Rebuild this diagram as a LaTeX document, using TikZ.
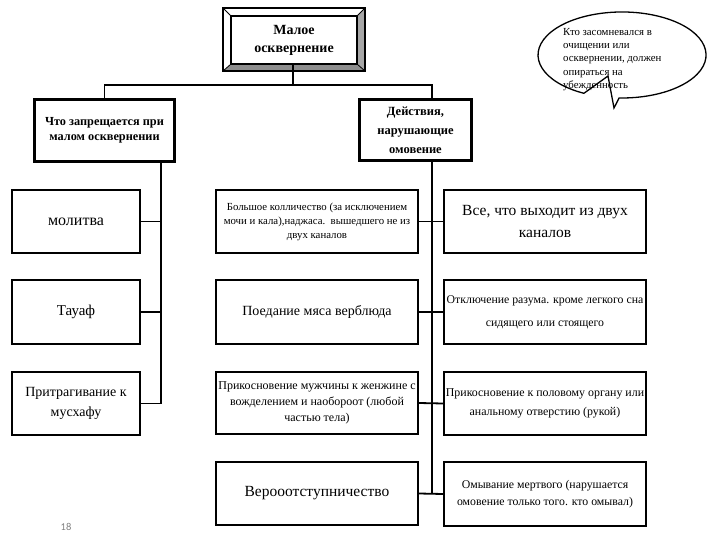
\documentclass[tikz,border=0pt]{standalone}
\usepackage{fontspec}
\setmainfont{Liberation Serif}
\newfontfamily\numfont{Carlito}
\usetikzlibrary{calc}
\definecolor{bevelgray}{HTML}{A6A6A6}
\begin{document}
\begin{tikzpicture}[x=1pt,y=-1pt,
  box/.style={draw=black,line width=1.6pt,fill=white,align=center,inner sep=1pt},
  headbox/.style={draw=black,line width=3.2pt,fill=white,align=center,inner sep=1pt,font=\bfseries},
  conn/.style={draw=black,line width=1.8pt},
  fs/.style n args={2}{font=\fontsize{#1}{#2}\selectfont}
]
\useasboundingbox (0,0) rectangle (720,540);
% ---- top bevel box
\fill[bevelgray] (223,8) rectangle (365,71);
\fill[white] (223,8) -- (365,8) -- (357,16) -- (231,16) -- cycle;
\fill[white] (223,8) -- (231,16) -- (231,64) -- (223,71) -- cycle;
\fill[bevelgray!85!black] (223,71) -- (365,71) -- (357,64) -- (231,64) -- cycle;
\draw[line width=0.8pt] (223,8) -- (231,16) (365,8) -- (357,16) (223,71) -- (231,64) (365,71) -- (357,64);
\draw[line width=2.4pt] (223,8) rectangle (365,71);
\node[draw,line width=1.6pt,fill=white,minimum width=126,minimum height=48,align=center,inner sep=1pt,
  font=\fontsize{14}{18}\selectfont\bfseries] (top) at (294,40) {Малое\\осквернение};
% ---- headers
\node[headbox,minimum width=140,minimum height=62,font=\fontsize{12.3}{15}\selectfont\bfseries] (lh) at (104.5,130.5) {Что запрещается при\\малом осквернении};
\node[headbox,minimum width=112,minimum height=61,font=\fontsize{12.5}{19}\selectfont\bfseries] (rh) at (415.5,130) {Действия,\\нарушающие\\омовение};
% ---- left column
\node[box,minimum width=128,minimum height=63,fs={16}{19}] (l1) at (76,221.5) {молитва};
\node[box,minimum width=128,minimum height=64,fs={15}{18}] (l2) at (76,312) {Тауаф};
\node[box,minimum width=128,minimum height=63,fs={14}{20}] (l3) at (76,403.5) {Притрагивание к\\мусхафу};
% ---- middle column
\node[box,minimum width=202,minimum height=63,fs={10.8}{14}] (m1) at (317,221.5) {Большое колличество (за исключением\\мочи и кала),наджаса.\ \ вышедшего не из\\двух каналов};
\node[box,minimum width=202,minimum height=64,fs={14}{17}] (m2) at (317,312) {Поедание мяса верблюда};
\node[box,minimum width=202,minimum height=62,fs={12}{16}] (m3) at (317,403) {Прикосновение мужчины к женжине с\\вожделением и наобороот (любой\\частью тела)};
\node[box,minimum width=202,minimum height=63,fs={15.5}{18}] (m4) at (317,493.5) {Верооотступничество};
% ---- right column
\node[box,minimum width=202,minimum height=63,fs={15.5}{22}] (r1) at (545,221.5) {Все,\ что выходит из двух\\каналов};
\node[box,minimum width=202,minimum height=64,fs={11.8}{23}] (r2) at (545,312) {Отключение разума. кроме легкого сна\\сидящего или\ стоящего};
\node[box,minimum width=202,minimum height=63,fs={11.9}{19}] (r3) at (545,403.5) {Прикосновение к половому органу или\\анальному отверстию (рукой)};
\node[box,minimum width=202,minimum height=64,fs={11.8}{17}] (r4) at (545,494) {Омывание мертвого (нарушается\\омовение только того. кто омывал)};
% ---- connectors
\coordinate (j1) at (293,85);
\coordinate (rt) at (432,98);
\coordinate (lv) at (161,163);
\coordinate (rb) at (432,162);
\draw[conn] (top.south -| j1) -- (j1);
\draw[conn] (lh.north) |- (j1) -| (rt);
\draw[conn] (lv) |- (l3.east);
\draw[conn] (l1.east) -- (l1.east -| lv);
\draw[conn] (l2.east) -- (l2.east -| lv);
\draw[conn] (rb) |- (m4.east);
\draw[conn] (m1.east) -- (r1.west);
\draw[conn] (m2.east) -- (r2.west);
\draw[conn] (m3.east) -- (r3.west);
\draw[conn] (m4.east) -- (r4.west);
% ---- callout
\draw[line width=1.3pt,fill=white] (583.9,93.3) arc[start angle=117,end angle=452,x radius=84,y radius=43] -- (614,108) -- (608,76) -- cycle;
\node[anchor=north west,align=left,inner sep=0pt,font=\fontsize{10.8}{13.3}\selectfont] (ct) at (563,28) {Кто засомневался в\\очищении или\\осквернении, должен\\опираться на\\убежденность};
% ---- page number
\node[text=gray,font=\numfont\fontsize{10.5}{12}\selectfont] (pn) at (66,527) {18};
\end{tikzpicture}
\end{document}
